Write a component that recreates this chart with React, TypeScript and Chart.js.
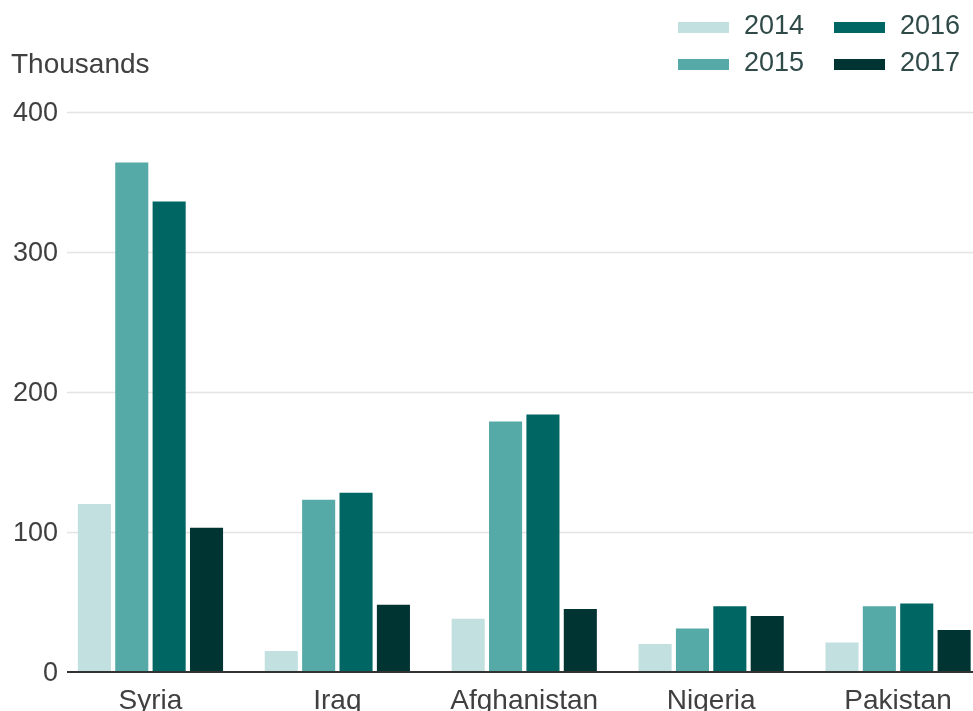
import React, { useEffect, useRef } from "react";
import { Chart, registerables } from "chart.js";

Chart.register(...registerables);

const categories = ["Syria", "Iraq", "Afghanistan", "Nigeria", "Pakistan"];
const seriesNames = ["2014", "2015", "2016", "2017"];
const seriesColors = ["#c2e0df", "#55a9a6", "#006663", "#003433"];
const values2014 = [120, 15, 38, 20, 21];
const values2015 = [364, 123, 179, 31, 47];
const values2016 = [336, 128, 184, 47, 49];
const values2017 = [103, 48, 45, 40, 30];
const seriesValues = [values2014, values2015, values2016, values2017];
const yTicks = [0, 100, 200, 300, 400];
const unitLabel = "Thousands";

const FONT = "'Liberation Sans', Arial, sans-serif";
const TEXT = "#404040";
const GRID_LEFT = 67;

const gridPlugin = {
  id: "customGrid",
  beforeDatasetsDraw(chart: any) {
    const { ctx, chartArea, scales } = chart;
    const y = scales.y;
    ctx.save();
    ctx.strokeStyle = "#e4e4e4";
    ctx.lineWidth = 1.5;
    yTicks.forEach((v) => {
      if (v === 0) return;
      const py = Math.round(y.getPixelForValue(v)) + 0.5;
      ctx.beginPath();
      ctx.moveTo(GRID_LEFT, py);
      ctx.lineTo(chartArea.right + 20, py);
      ctx.stroke();
    });
    ctx.restore();
  },
  afterDatasetsDraw(chart: any) {
    const { ctx, chartArea, scales } = chart;
    const py = scales.y.getPixelForValue(0);
    ctx.save();
    ctx.strokeStyle = "#333333";
    ctx.lineWidth = 2;
    ctx.beginPath();
    ctx.moveTo(GRID_LEFT, py);
    ctx.lineTo(chartArea.right + 20, py);
    ctx.stroke();
    ctx.restore();
  },
};

const legendCols = [678, 834];
const legendRows = [27, 64.5];

export default function App() {
  const ref = useRef<HTMLCanvasElement | null>(null);

  useEffect(() => {
    if (!ref.current) return;
    const chart = new Chart(ref.current, {
      type: "bar",
      data: {
        labels: categories,
        datasets: seriesNames.map((name, i) => ({
          label: name,
          data: seriesValues[i],
          backgroundColor: seriesColors[i],
          borderWidth: 0,
          categoryPercentage: 0.8,
          barPercentage: 0.885,
        })),
      },
      options: {
        responsive: false,
        animation: false,
        devicePixelRatio: 1,
        layout: { padding: { top: 112, right: 8.5, left: 0, bottom: 0 } },
        plugins: {
          legend: { display: false },
          tooltip: { enabled: false },
          title: { display: false },
        },
        scales: {
          x: {
            grid: { display: false },
            border: { display: false },
            ticks: {
              padding: 4,
              color: TEXT,
              font: { family: FONT, size: 28 },
              maxRotation: 0,
              autoSkip: false,
            },
            afterFit: (s: any) => {
              s.height = 58;
            },
          },
          y: {
            min: 0,
            max: 400,
            grid: { display: false, drawTicks: false },
            border: { display: false },
            afterBuildTicks: (s: any) => {
              s.ticks = yTicks.map((v) => ({ value: v }));
            },
            ticks: {
              padding: -1,
              labelOffset: 2,
              color: TEXT,
              font: { family: FONT, size: 27 },
            },
            afterFit: (s: any) => {
              s.width = 57;
            },
          },
        },
      },
      plugins: [gridPlugin],
    });
    return () => chart.destroy();
  }, []);

  return (
    <div
      style={{
        position: "fixed",
        left: 0,
        top: 0,
        width: 973,
        height: 711,
        overflow: "hidden",
        background: "#ffffff",
      }}
    >
      <canvas
        ref={ref}
        width={1000}
        height={730}
        style={{ position: "absolute", left: 0, top: 0, width: 1000, height: 730 }}
      />
      <div
        style={{
          position: "absolute",
          left: 11,
          top: 49.5,
          fontFamily: FONT,
          fontSize: 28,
          lineHeight: "28px",
          color: TEXT,
          whiteSpace: "nowrap",
        }}
      >
        {unitLabel}
      </div>
      {seriesNames.map((name, i) => {
        const col = Math.floor(i / 2);
        const row = i % 2;
        const x = legendCols[col];
        const cy = legendRows[row];
        return (
          <div key={name}>
            <div
              style={{
                position: "absolute",
                left: x,
                top: cy - 5.5,
                width: 51,
                height: 11,
                background: seriesColors[i],
              }}
            />
            <div
              style={{
                position: "absolute",
                left: x + 66,
                top: cy - 15.5,
                fontFamily: FONT,
                fontSize: 27,
                lineHeight: "27px",
                color: "#2f4a48",
                whiteSpace: "nowrap",
              }}
            >
              {name}
            </div>
          </div>
        );
      })}
    </div>
  );
}
